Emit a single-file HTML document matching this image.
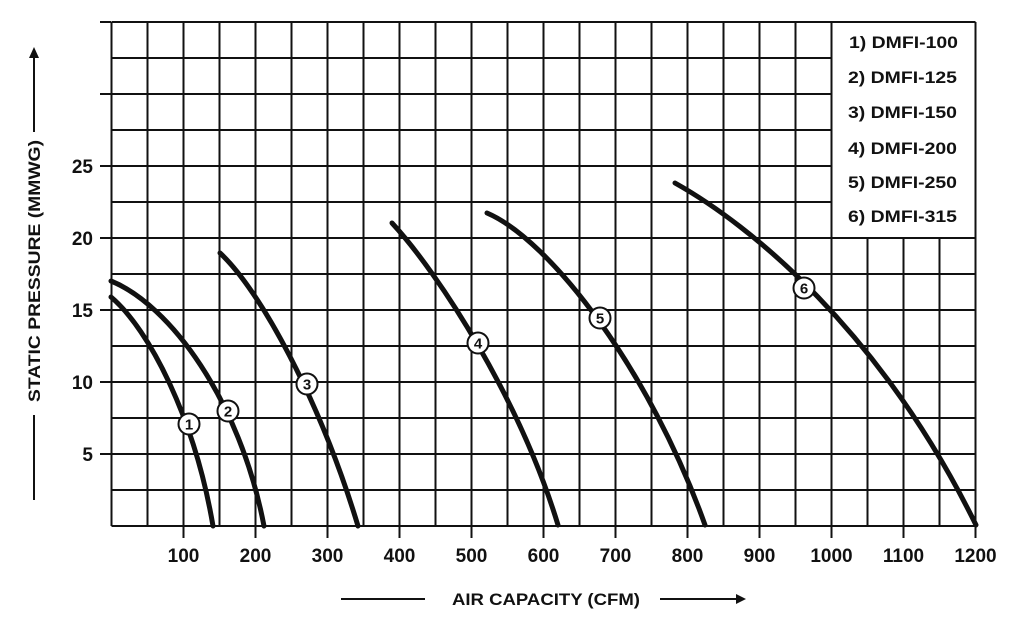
<!DOCTYPE html>
<html><head><meta charset="utf-8"><style>
html,body{margin:0;padding:0;background:#fff;}
svg{display:block;}
text{font-family:"Liberation Sans",Arial,sans-serif;font-weight:bold;fill:#111;}
</style></head><body>
<svg width="1017" height="628" viewBox="0 0 1017 628" xmlns="http://www.w3.org/2000/svg">
<g stroke="#111" stroke-width="2" fill="none">
<path d="M111.5,22V526M147.5,22V526M183.5,22V526M219.5,22V526M255.5,22V526M291.5,22V526M327.5,22V526M363.5,22V526M399.5,22V526M435.5,22V526M471.5,22V526M507.5,22V526M543.5,22V526M579.5,22V526M615.5,22V526M651.5,22V526M687.5,22V526M723.5,22V526M759.5,22V526M795.5,22V526M831.5,22V526M867.5,238V526M903.5,238V526M939.5,238V526M975.5,22V526"/>
<path d="M111.5,22H975.5M111.5,58H831.5M111.5,94H831.5M111.5,130H831.5M111.5,166H831.5M111.5,202H831.5M111.5,238H975.5M111.5,274H975.5M111.5,310H975.5M111.5,346H975.5M111.5,382H975.5M111.5,418H975.5M111.5,454H975.5M111.5,490H975.5M111.5,526H975.5"/>
<path d="M100,22H111M100,94H111M100,166H111M100,238H111M100,310H111M100,382H111M100,454H111"/>
<path d="M183.5,526V538M255.5,526V538M327.5,526V538M399.5,526V538M471.5,526V538M543.5,526V538M615.5,526V538M687.5,526V538M759.5,526V538M831.5,526V538M903.5,526V538M975.5,526V538"/>
</g>
<g stroke="#111" stroke-width="5" fill="none" stroke-linecap="round">
<path d="M111,297 C150,330 195,420 213,526"/>
<path d="M111,281 C170,305 240,400 264,526"/>
<path d="M220,253 C260,290 320,400 358,526"/>
<path d="M392,223 C440,275 520,400 558,525"/>
<path d="M487,213 C550,240 650,370 705,525"/>
<path d="M675,183 C750,225 880,330 976,525"/>
</g>
<g stroke="#111" stroke-width="2" fill="#fff">
<circle cx="189" cy="424" r="10.5"/><circle cx="228" cy="411" r="10.5"/><circle cx="307" cy="384" r="10.5"/>
<circle cx="478" cy="343" r="10.5"/><circle cx="600" cy="318" r="10.5"/><circle cx="804" cy="288" r="10.5"/>
</g>
<g font-size="15" text-anchor="middle">
<text x="189" y="429.5">1</text><text x="228" y="416.5">2</text><text x="307" y="389.5">3</text>
<text x="478" y="348.5">4</text><text x="600" y="323.5">5</text><text x="804" y="293.5">6</text>
</g>
<g font-size="17">
<text x="849" y="48" textLength="109" lengthAdjust="spacingAndGlyphs">1) DMFI-100</text>
<text x="848" y="83" textLength="109" lengthAdjust="spacingAndGlyphs">2) DMFI-125</text>
<text x="848" y="118" textLength="109" lengthAdjust="spacingAndGlyphs">3) DMFI-150</text>
<text x="848" y="154" textLength="109" lengthAdjust="spacingAndGlyphs">4) DMFI-200</text>
<text x="848" y="188" textLength="109" lengthAdjust="spacingAndGlyphs">5) DMFI-250</text>
<text x="848" y="222" textLength="109" lengthAdjust="spacingAndGlyphs">6) DMFI-315</text>
</g>
<g font-size="19" text-anchor="end">
<text x="93" y="173">25</text><text x="93" y="245">20</text><text x="93" y="317">15</text>
<text x="93" y="389">10</text><text x="93" y="461">5</text>
</g>
<g font-size="19" text-anchor="middle">
<text x="183.5" y="562">100</text><text x="255.5" y="562">200</text><text x="327.5" y="562">300</text>
<text x="399.5" y="562">400</text><text x="471.5" y="562">500</text><text x="543.5" y="562">600</text>
<text x="615.5" y="562">700</text><text x="687.5" y="562">800</text><text x="759.5" y="562">900</text>
<text x="831.5" y="562">1000</text><text x="903.5" y="562">1100</text><text x="975.5" y="562">1200</text>
</g>
<text x="452" y="605" font-size="17" textLength="188" lengthAdjust="spacingAndGlyphs">AIR CAPACITY (CFM)</text>
<path d="M341,599H425M660,599H738" stroke="#111" stroke-width="2"/>
<polygon points="746,599 736,594 736,604" fill="#111"/>
<text transform="translate(40,402) rotate(-90)" font-size="17" textLength="262" lengthAdjust="spacingAndGlyphs">STATIC PRESSURE (MMWG)</text>
<path d="M34,415V500M34,56V132" stroke="#111" stroke-width="2"/>
<polygon points="34,47 29,58 39,58" fill="#111"/>
</svg>
</body></html>
